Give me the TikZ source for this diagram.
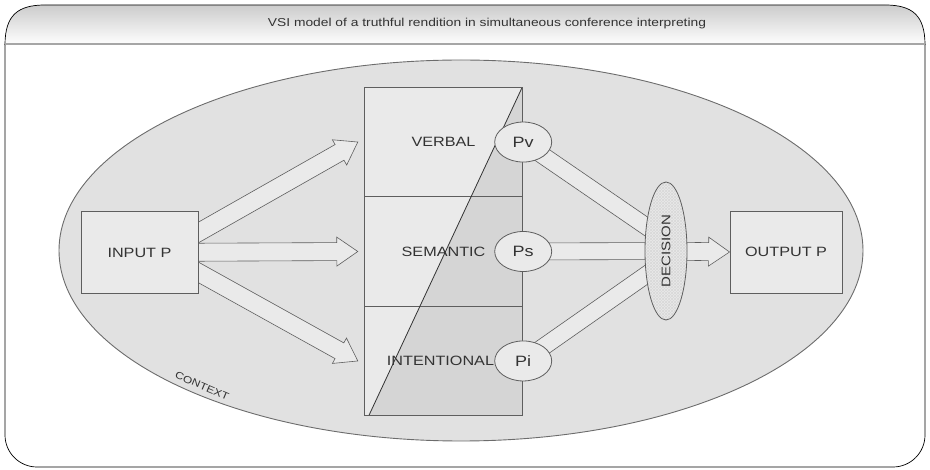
\documentclass[tikz,border=0pt]{standalone}
\usepackage{fontspec}
\setmainfont{Liberation Sans}[FakeStretch=1.2]
\usetikzlibrary{calc,positioning,shapes.geometric,patterns}

\definecolor{ctxgray}{HTML}{E1E1E1}
\definecolor{boxgray}{HTML}{EAEAEA}
\definecolor{darkzone}{HTML}{D5D5D5}
\definecolor{edgegray}{HTML}{5E5E5E}
\definecolor{inkgray}{HTML}{333333}

\pgfdeclarelayer{bottom}
\pgfdeclarelayer{back}
\pgfsetlayers{bottom,back,main}

% fat arrow with a head, from #1 to #2
\newcommand{\fatarrow}[2]{%
  \coordinate (fa-neck) at ($(#2)!21pt!(#1)$);
  \filldraw[fatline] ($(#1)!9pt!90:(#2)$) -- ($(fa-neck)!9pt!-90:(#1)$)
    -- ($(fa-neck)!14.5pt!-90:(#1)$) -- (#2) -- ($(fa-neck)!14.5pt!90:(#1)$)
    -- ($(fa-neck)!9pt!90:(#1)$) -- ($(#1)!9pt!-90:(#2)$) -- cycle;}
% fat band without a head
\newcommand{\fatband}[2]{%
  \filldraw[fatline] ($(#1)!8.5pt!90:(#2)$) -- ($(#2)!8.5pt!-90:(#1)$)
    -- ($(#2)!8.5pt!90:(#1)$) -- ($(#1)!8.5pt!-90:(#2)$) -- cycle;}

\tikzset{
  fatline/.style={draw=edgegray, fill=boxgray, line width=0.6pt},
  labelbox/.style={draw=edgegray, fill=boxgray, line width=0.9pt, inner sep=0pt,
    minimum height=82pt, font=\fontsize{13.5}{15}\selectfont, text=inkgray},
  pnode/.style={ellipse, draw=edgegray, fill=boxgray, line width=0.8pt, inner sep=0pt,
    minimum width=57pt, minimum height=40pt, font=\fontsize{15}{17}\selectfont, text=inkgray},
  layertext/.style={font=\fontsize{13.5}{15}\selectfont, text=inkgray, inner sep=1pt},
  decisionnode/.style={ellipse, draw=edgegray, line width=0.8pt, inner sep=0pt,
    minimum width=138pt, minimum height=42pt, font=\fontsize{12.5}{14}\selectfont, text=inkgray,
    preaction={fill=boxgray},
    preaction={pattern=north east lines, pattern color=gray!30},
    pattern=north west lines, pattern color=gray!30},
}

\begin{document}
\begin{tikzpicture}[x=1pt,y=-1pt]
  \useasboundingbox (0,0) rectangle (930,470);

  \begin{pgfonlayer}{bottom}
    \draw[black, line width=0.7pt, rounded corners=32pt] (5,44) -- (5,467) -- (925,467) -- (925,44);
    \shade[draw=black, line width=0.7pt, top color=gray!40, bottom color=white]
      (5,44) -- (5,45) .. controls (5,15) and (18,5) .. (45,5) -- (885,5)
      .. controls (912,5) and (925,15) .. (925,45) -- (925,44) -- cycle;
    \draw[gray!70, line width=2.2pt] (5,44) -- (925,44);
    \node[ellipse, draw=gray!85!black, fill=ctxgray, line width=0.9pt,
      minimum width=804pt, minimum height=381pt] (context) at (461,250.5) {};
  \end{pgfonlayer}

  \node[font=\fontsize{11.5}{13}\selectfont, text=inkgray] (title) at (487,24)
    {VSI model of a truthful rendition in simultaneous conference interpreting};
  \node[rotate=-23, font=\fontsize{10}{11}\selectfont, text=inkgray] (ctxlabel) at (202,386) {CONTEXT};

  \node[inner sep=0pt, minimum width=157pt, minimum height=328pt] (layers) at (443.5,251.5) {};
  \coordinate (diagbase) at ($(layers.south west)+(4,0)$);
  \fill[boxgray] (layers.south west) rectangle (layers.north east);
  \fill[darkzone] (diagbase) -- (layers.north east) -- (layers.south east) -- cycle;
  \draw[edgegray, line width=0.7pt] ($(layers.north west)!1/3!(layers.south west)$) -- ($(layers.north east)!1/3!(layers.south east)$);
  \draw[edgegray, line width=0.7pt] ($(layers.north west)!2/3!(layers.south west)$) -- ($(layers.north east)!2/3!(layers.south east)$);
  \draw[black!80, line width=0.8pt] (diagbase) -- (layers.north east);
  \draw[edgegray, line width=1pt] (layers.south west) rectangle (layers.north east);

  \node[layertext] (verbal) at ($(layers.north)!1/6!(layers.south)$) {VERBAL};
  \node[layertext] (semantic) at (layers.center) {SEMANTIC};
  \node[layertext] (intentional) at ($(layers.north)!5/6!(layers.south)+(-3,0)$) {INTENTIONAL};

  \node[pnode] (pverb) at ($(layers.east |- verbal)+(1,0)$) {Pv};
  \node[pnode] (psem) at ($(layers.east |- semantic)+(1,0)$) {Ps};
  \node[pnode] (pint) at ($(layers.east |- intentional)+(1,0)$) {Pi};

  \node[labelbox, minimum width=117pt] (input) at (139.5,252.5) {INPUT P};
  \node[labelbox, minimum width=112pt] (output) at (786,252) {OUTPUT P};
  \node[decisionnode, rotate=90] (decision) at (666,251) {DECISION};

  \coordinate (in-up) at ($(input.east)+(-8,-15.5)$);
  \coordinate (in-down) at ($(input.east)+(-8,15.5)$);
  \coordinate (tip-verbal) at ($(layers.west |- verbal)+(-7,0)$);
  \coordinate (tip-semantic) at ($(layers.west |- semantic)+(-7,0)$);
  \coordinate (tip-intentional) at ($(layers.west |- intentional)+(-7,0)$);
  \coordinate (dec-up) at ($(decision.center)+(0,-11)$);
  \coordinate (dec-down) at ($(decision.center)+(0,10)$);

  \begin{pgfonlayer}{back}
    \fatarrow{in-up}{tip-verbal}
    \fatarrow{input}{tip-semantic}
    \fatarrow{in-down}{tip-intentional}
    \fatband{pverb}{dec-up}
    \fatband{psem}{decision}
    \fatband{pint}{dec-down}
    \fatarrow{decision}{output.west}
  \end{pgfonlayer}
\end{tikzpicture}
\end{document}
